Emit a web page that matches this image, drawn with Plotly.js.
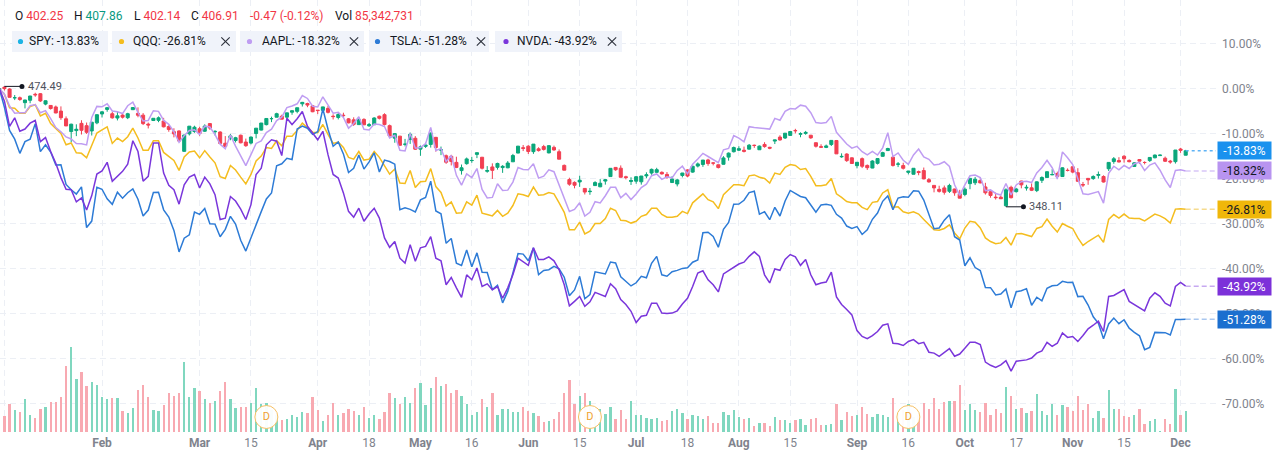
<!DOCTYPE html>
<html><head><meta charset="utf-8">
<script src="https://cdn.plot.ly/plotly-3.0.1.min.js"></script>
<style>html,body{margin:0;padding:0;background:#fff;}#chart{width:1275px;height:451px;}</style>
</head><body><div id="chart"></div>
<script>
// ---------- DATA (trading days 2022-01-03 .. 2022-12-02, index = trading day) ----------
const spyO = [476.30,479.22,477.16,467.89,467.95,462.70,465.23,471.59,472.19,461.19,
459.74,458.13,453.75,445.56,432.03,433.06,440.72,438.26,432.68,441.24,
450.68,455.50,450.95,446.35,449.51,446.73,455.22,451.34,449.41,439.92,
443.73,443.93,443.22,437.33,431.89,432.66,411.02,429.61,432.03,435.04,
432.37,440.47,431.75,431.55,419.62,425.14,422.52,428.12,420.89,419.77,
429.89,433.59,438.00,444.34,445.86,446.91,445.94,451.16,452.06,460.02,
460.34,457.89,453.31,453.13,455.22,446.89,445.59,447.97,444.11,443.08,
438.03,443.55,436.81,437.86,446.92,448.54,436.91,423.67,425.83,417.24,
422.29,423.59,412.07,415.01,417.08,424.55,411.10,405.10,404.49,398.07,
389.37,396.71,399.98,406.53,403.50,388.62,393.25,392.83,392.56,392.31,
398.67,407.91,413.55,415.17,409.42,412.40,414.78,408.10,413.93,409.34,
394.88,379.85,376.85,377.36,370.51,365.51,371.89,370.62,376.64,381.40,
391.05,390.23,381.23,376.24,376.56,375.88,382.11,385.12,385.85,385.85,
383.65,375.10,373.61,382.55,388.38,386.08,392.47,394.16,398.92,395.75,
393.84,394.36,401.89,407.58,409.15,409.12,410.30,414.37,409.66,415.25,
412.22,418.78,422.99,422.03,424.77,429.97,425.99,426.86,424.98,417.05,
412.90,412.11,415.24,419.39,402.20,405.14,401.13,392.89,400.28,393.13,
390.37,395.34,402.74,408.78,401.83,394.47,392.96,384.25,382.26,385.06,
386.11,376.58,370.58,366.41,367.95,364.38,366.79,361.80,361.08,372.40,
373.32,375.62,368.97,363.96,358.24,358.17,349.21,368.55,364.01,375.13,
367.82,368.03,365.12,375.89,378.79,381.62,383.07,379.87,386.44,390.14,
383.90,371.47,377.95,377.71,381.11,379.93,388.05,395.59,396.66,401.15,
396.78,390.46,397.74,394.64,396.63,399.55,401.83,399.09,396.05,395.49,
408.77,402.25];
const spyH = [477.85,479.98,477.98,470.82,469.20,465.74,469.85,473.20,472.88,465.09,
459.96,459.61,458.74,448.06,440.38,439.72,444.04,441.59,442.00,450.28,
453.63,458.12,452.97,452.78,450.99,451.92,457.88,457.71,451.61,441.60,
446.28,448.06,446.57,438.66,435.50,433.26,428.76,437.84,438.20,437.17,
439.72,441.11,433.37,432.30,427.21,429.51,426.43,428.77,424.55,426.84,
435.68,441.07,444.86,446.46,450.58,448.49,450.50,452.98,455.91,462.07,
461.20,458.76,453.46,456.91,457.83,448.93,450.69,450.63,445.00,445.75,
444.11,444.73,439.75,445.80,447.57,450.01,438.08,428.69,426.04,422.92,
429.64,425.87,415.92,418.93,429.66,425.00,414.80,406.41,406.08,404.04,
395.80,403.18,403.97,408.57,403.80,394.14,397.03,397.73,395.15,399.45,
407.04,415.38,416.46,416.24,417.44,414.04,416.61,416.22,415.82,411.74,
395.78,381.81,377.94,383.90,370.94,369.38,376.53,378.72,378.83,390.09,
391.36,393.16,382.27,380.66,381.70,381.98,385.87,389.83,390.64,386.87,
386.16,381.92,379.05,385.25,389.09,392.87,396.26,398.84,400.18,396.47,
394.06,402.88,406.80,413.03,413.41,413.00,415.68,415.09,414.15,417.62,
412.75,420.00,424.95,427.21,429.31,431.73,428.03,429.50,425.26,417.28,
415.42,415.11,419.56,419.96,405.84,405.90,401.56,396.78,401.56,394.12,
398.59,400.86,407.51,411.73,403.10,396.72,395.96,385.73,388.55,386.12,
389.31,378.30,370.62,370.21,370.40,372.30,367.11,365.91,368.55,378.00,
379.46,378.72,373.29,364.21,363.03,359.82,367.51,370.26,367.98,375.45,
371.21,372.67,374.80,380.06,385.25,387.58,385.00,389.52,388.40,390.39,
388.63,374.20,377.96,381.14,385.12,381.14,395.04,400.35,400.18,402.31,
397.78,394.95,397.81,395.82,400.07,402.93,402.91,400.81,397.30,407.68,
410.00,407.86];
const spyL = [473.85,475.58,468.28,465.43,464.65,456.60,462.05,468.94,463.44,459.90,
455.31,451.46,444.50,437.95,420.76,427.15,428.86,429.45,427.82,439.81,
446.94,453.05,445.71,443.83,445.85,445.22,455.01,447.20,438.94,435.34,
443.18,441.94,436.42,431.82,425.86,421.35,410.64,427.86,430.70,427.11,
431.57,433.80,427.88,419.36,415.12,422.82,420.44,419.53,415.79,418.42,
424.80,433.19,437.22,440.68,445.86,443.71,444.76,448.43,450.06,457.18,
456.47,451.16,449.14,452.26,449.82,443.47,443.53,445.94,439.39,436.65,
437.84,437.68,435.61,437.68,443.48,437.10,425.44,418.84,416.07,415.01,
417.60,411.21,405.02,413.36,413.71,409.44,405.73,396.50,394.82,391.96,
385.15,395.61,397.60,402.58,390.55,387.11,380.54,390.38,386.96,391.89,
398.45,407.70,410.03,406.93,407.04,409.51,410.55,407.61,410.38,401.44,
389.75,373.30,370.59,372.12,364.08,362.17,371.81,370.18,372.89,381.37,
387.44,380.53,378.42,372.56,373.80,372.90,379.60,383.27,385.66,383.50,
378.99,374.66,371.04,380.54,380.66,385.39,391.03,391.63,392.75,393.21,
389.95,394.05,398.15,406.77,408.40,406.82,410.00,411.65,409.60,411.83,
410.22,415.67,419.21,421.03,424.71,426.88,422.83,425.44,421.22,411.98,
411.77,411.39,413.61,405.25,401.20,396.83,395.16,390.04,390.33,388.42,
390.20,394.12,402.46,408.46,391.92,391.38,388.78,382.11,382.18,381.21,
376.95,373.44,363.29,363.03,360.87,362.60,359.70,357.04,359.21,366.57,
370.95,372.68,360.94,357.67,355.71,356.30,348.11,356.96,363.07,367.52,
365.09,364.61,363.54,373.11,378.67,381.35,379.33,379.68,385.26,383.29,
374.76,368.79,371.20,376.44,377.72,373.61,385.64,393.27,394.82,394.49,
394.79,390.14,393.04,392.66,395.15,398.99,401.54,395.11,393.30,393.48,
404.75,402.14];
const spyC = [477.71,477.55,468.38,467.94,466.09,465.51,469.75,471.02,464.53,464.72,
456.49,451.75,446.75,437.98,439.84,434.47,433.38,431.24,441.95,449.91,
452.95,457.35,446.60,448.70,447.26,450.94,457.54,449.32,440.46,439.02,
446.10,446.60,437.06,434.23,429.57,421.95,428.30,437.75,436.63,429.98,
437.89,435.71,432.17,419.43,416.25,427.41,425.48,420.07,417.00,426.17,
435.62,441.07,444.52,444.39,449.59,443.80,450.49,452.69,455.91,461.55,
458.70,451.64,452.92,456.80,451.03,446.52,448.77,447.57,439.92,438.29,
443.31,437.79,437.97,445.04,444.71,438.06,426.04,428.51,416.10,417.27,
427.81,412.00,414.48,416.38,429.06,413.81,411.34,398.17,399.09,392.75,
392.34,401.72,400.09,408.32,391.86,389.46,389.63,396.92,393.89,397.37,
405.31,415.26,412.93,409.59,417.39,410.54,411.79,415.74,411.22,401.44,
389.80,375.00,373.87,379.20,366.65,365.86,375.07,374.39,378.06,390.08,
388.59,380.65,380.34,377.25,381.24,381.96,383.25,388.99,388.67,384.23,
380.83,378.83,377.91,385.13,381.95,392.27,394.77,398.79,395.09,395.57,
390.89,401.04,406.07,411.99,410.77,408.06,414.45,414.17,413.47,412.99,
411.35,419.99,419.99,427.10,428.86,429.70,426.65,427.89,422.14,413.35,
412.35,413.67,419.51,405.31,402.63,398.21,395.18,396.42,392.24,390.76,
397.78,400.38,406.60,410.97,393.10,394.60,390.12,385.56,388.55,384.09,
377.39,374.22,367.95,364.31,363.38,370.53,362.79,357.18,366.61,377.97,
377.09,373.20,362.79,360.02,357.74,356.56,365.97,357.63,366.82,371.13,
368.50,365.41,374.29,378.87,384.92,382.02,379.98,389.02,386.21,384.52,
374.87,371.01,376.35,379.95,382.00,374.13,394.69,398.51,395.12,398.49,
395.45,394.24,396.03,394.59,399.90,402.42,402.33,395.91,395.23,407.68,
407.38,406.91];
// SPY volume, millions
const spyVol = [72.7,70,102,86,83,117,73,66,89,95,
108,107,121,202,253,168,186,150,162,152,
121,115,118,118,84,79,91,139,152,121,
86,84,99,132,123,132,213,121,144,137,
115,105,112,137,162,115,92,94,94,105,
144,103,105,88,75,60,62,75,68,83,
79,121,86,58,73,105,75,79,89,84,
73,96,65,75,62,83,132,118,102,120,
105,145,158,99,144,174,149,155,132,141,
123,103,75,82,115,96,132,75,89,89,
82,83,94,84,79,70,55,57,62,83,
132,167,103,123,133,110,75,89,77,96,
64,86,62,110,73,75,67,63,67,57,
60,84,89,79,62,75,70,62,70,53,
53,82,73,86,68,62,66,44,53,53,
44,68,60,60,54,60,63,47,62,66,
47,47,49,102,61,83,70,75,96,77,
68,77,75,68,119,80,87,102,69,73,
105,90,119,90,108,110,112,152,88,102,
88,82,106,73,90,79,147,123,90,92,
79,84,130,84,75,104,75,99,95,84,
125,86,104,66,84,67,139,90,90,70,
68,73,90,49,57,64,31.6,64,49,143,
75,85.3];
const spyDivIdx = [52,115,177];
const spyDivAmt = [1.366,1.577,1.596];

const aaplClose = [182.01,179.70,174.92,172.00,172.17,172.19,175.08,175.53,172.19,173.07,
169.80,166.23,164.51,162.41,161.62,159.78,159.69,159.22,170.33,174.78,
174.61,175.84,172.90,172.39,171.66,174.83,176.28,172.12,168.64,168.88,
172.79,172.55,168.88,167.30,164.32,160.07,162.74,164.85,165.12,163.20,
166.56,166.23,163.17,159.30,157.44,162.95,158.52,154.73,150.62,155.09,
159.59,160.62,163.98,165.38,168.82,170.21,174.07,174.72,175.60,178.96,
177.77,174.61,174.31,178.44,175.06,171.83,172.14,170.09,165.75,167.66,
170.40,165.29,165.07,167.40,167.23,166.42,161.79,162.88,156.80,156.57,
163.64,157.65,157.96,159.48,166.02,156.77,157.28,152.06,154.51,146.50,
142.56,147.11,145.54,149.24,140.82,137.35,137.59,143.11,140.36,140.52,
143.78,149.64,148.84,148.71,151.21,145.38,146.14,148.71,147.96,142.64,
137.13,131.88,132.76,135.43,130.06,131.56,135.87,135.35,138.27,141.66,
141.66,137.44,139.23,136.72,138.93,141.56,142.92,146.35,147.04,144.87,
145.86,145.49,148.47,150.17,147.07,151.00,153.04,155.35,154.09,152.95,
151.60,156.79,157.35,162.51,161.51,160.01,166.13,165.81,165.35,164.87,
164.92,169.24,168.49,172.10,173.19,173.03,174.55,174.15,171.52,167.57,
167.23,167.53,170.03,163.62,161.38,158.91,157.22,157.96,155.81,154.53,
155.96,154.46,157.37,163.43,153.84,155.31,152.37,150.70,154.48,156.90,
153.72,152.74,150.43,150.77,151.76,149.84,142.48,138.20,142.45,146.10,
146.40,145.43,140.09,140.42,138.98,138.34,142.99,138.38,142.41,143.75,
143.86,143.39,147.27,149.45,152.34,149.35,144.80,155.74,153.34,150.65,
145.03,138.88,138.38,138.92,139.50,134.87,146.87,149.70,148.28,150.04,
148.79,150.72,151.29,148.01,150.18,151.07,148.11,144.22,141.17,148.03,
148.31,147.81];
const aaplDivIdx = [23,86,148,212];
const aaplDivAmt = [0.22,0.23,0.23,0.23];

const tslaClose = [1199.78,1149.59,1088.12,1064.70,1026.96,1058.12,1064.40,1106.22,1031.56,1049.61,
1030.51,995.65,996.27,943.90,930.00,918.40,937.41,829.10,846.35,936.72,
931.25,905.66,891.14,923.32,907.34,922.00,932.00,904.55,860.00,875.76,
922.43,923.39,876.35,856.98,821.53,764.04,800.77,809.87,870.43,864.37,
879.89,839.29,838.29,804.58,824.40,858.97,838.30,795.35,766.37,801.89,
840.23,871.60,905.39,921.16,993.98,999.11,1013.92,1010.64,1091.84,1099.57,
1093.99,1077.60,1084.59,1145.45,1091.26,1045.76,1057.26,1025.49,975.93,986.95,
1022.37,985.00,1004.29,1028.15,977.20,1008.78,1005.05,998.02,876.42,881.51,
877.51,870.76,902.94,909.25,952.62,873.28,865.65,787.11,800.04,734.00,
728.00,769.59,724.37,761.61,709.81,709.42,663.90,674.90,628.16,658.80,
707.73,759.63,758.26,740.37,775.00,703.55,714.84,716.66,725.60,719.12,
696.69,647.21,662.67,699.00,639.30,650.28,711.11,708.26,705.21,737.12,
734.76,697.99,685.47,673.42,681.79,699.20,695.20,733.63,752.29,703.03,
699.21,711.12,714.94,720.20,721.64,736.59,742.50,815.12,816.73,805.30,
776.58,824.46,842.70,891.45,891.83,901.76,922.19,925.90,864.51,871.27,
850.00,883.07,859.89,900.09,927.96,919.69,911.99,908.61,890.00,869.74,
889.36,891.29,296.07,288.09,284.82,277.70,275.61,277.16,270.21,274.42,
283.70,289.26,299.68,304.42,292.13,302.61,303.75,303.35,309.07,308.73,
300.80,288.59,275.33,276.01,282.94,287.81,268.21,265.25,242.40,249.44,
240.81,238.13,223.07,222.96,216.50,217.24,221.72,204.99,219.35,220.19,
222.04,207.28,214.44,211.25,222.42,224.64,225.09,228.52,227.54,227.82,
214.98,215.31,207.47,197.08,191.30,177.59,190.72,195.97,190.95,194.42,
186.92,183.17,180.19,167.87,169.91,183.20,182.86,182.92,180.83,194.70,
194.70,194.86];
const tslaSplitIdx = 162, tslaSplitRatio = 3;

// percent change from the first day
const qqqPct = [0,-1.3,-4.3,-4.4,-5.5,-5.5,-4.0,-3.6,-6.1,-5.5,
-7.8,-8.8,-10.0,-12.5,-12.1,-14.3,-14.4,-15.4,-12.7,-9.9,
-9.2,-8.5,-12.2,-11.0,-11.8,-10.7,-8.8,-11.0,-13.7,-13.7,
-11.6,-11.6,-14.2,-15.2,-16.0,-18.2,-15.2,-14.1,-13.9,-15.4,
-13.8,-15.2,-16.5,-19.6,-20.0,-17.1,-18.1,-19.7,-21.2,-19.1,
-16.1,-15.0,-13.1,-13.3,-11.6,-12.7,-10.6,-10.6,-9.3,-7.7,
-8.6,-9.7,-9.8,-8.0,-10.2,-12.2,-11.9,-13.1,-15.3,-15.7,
-14.0,-15.9,-15.7,-14.0,-15.3,-17.2,-19.0,-17.9,-21.0,-21.1,
-18.2,-22.0,-20.7,-20.6,-17.8,-21.8,-23.1,-26.1,-25.2,-27.7,
-27.6,-25.2,-25.9,-23.7,-27.7,-28.0,-28.3,-27.1,-28.4,-27.7,
-26.0,-23.4,-23.6,-24.0,-21.9,-23.7,-23.6,-23.1,-23.4,-25.4,
-27.5,-31.4,-31.4,-29.7,-32.3,-31.7,-30.0,-30.0,-28.9,-26.6,
-27.1,-29.3,-29.4,-29.9,-29.5,-28.4,-28.0,-26.6,-26.6,-28.0,
-28.6,-28.6,-28.4,-27.3,-27.8,-25.4,-24.5,-23.4,-24.7,-25.2,
-26.7,-23.6,-22.5,-21.4,-21.4,-21.6,-19.4,-19.2,-19.7,-20.0,
-21.0,-18.8,-19.1,-17.5,-16.9,-17.1,-18.0,-17.8,-19.5,-21.6,
-21.6,-21.4,-20.0,-23.4,-24.2,-25.1,-25.4,-25.4,-26.4,-26.9,
-25.3,-25.1,-23.2,-22.5,-26.4,-26.3,-27.4,-27.7,-27.4,-27.9,
-29.1,-30.3,-31.4,-31.5,-31.1,-30.3,-32.1,-33.4,-31.0,-29.5,
-29.7,-31.0,-33.2,-34.0,-34.5,-34.3,-33.1,-34.8,-32.3,-32.2,
-32.5,-32.9,-31.1,-30.7,-29.0,-30.6,-31.9,-30.0,-30.6,-31.1,
-33.2,-34.85,-34.0,-33.2,-32.6,-34.2,-29.1,-28.0,-28.8,-27.9,
-28.8,-28.9,-28.9,-29.4,-28.6,-27.9,-28.3,-28.9,-29.9,-26.8,
-26.7,-26.81];
const nvdaPct = [0,-2.8,-8.4,-6.5,-9.5,-9.0,-7.7,-7.1,-11.8,-10.9,
-14.0,-16.6,-19.8,-22.4,-22.5,-25.2,-24.3,-27.0,-23.8,-19.0,
-18.3,-16.4,-20.6,-19.5,-18.4,-16.8,-11.6,-14.0,-20.6,-19.5,
-12.1,-12.1,-18.8,-21.5,-22.5,-25.7,-21.4,-19.7,-19.1,-22.1,
-19.7,-21.2,-23.6,-29.1,-28.8,-24.0,-25.0,-26.8,-29.1,-25.8,
-19.1,-17.7,-12.5,-11.4,-11.7,-14.9,-6.6,-8.0,-6.7,-5.1,
-8.4,-9.9,-11.4,-9.5,-14.7,-19.1,-19.9,-23.2,-27.3,-28.6,
-26.6,-29.5,-27.9,-26.6,-28.8,-33.2,-35.3,-34.0,-37.7,-38.8,
-34.7,-38.4,-35.4,-35.1,-32.9,-37.7,-38.3,-43.6,-42.0,-44.3,
-46.4,-41.4,-42.5,-39.9,-44.0,-43.4,-44.7,-44.0,-46.6,-44.3,
-41.4,-37.7,-38.6,-39.3,-35.4,-38.0,-38.0,-37.4,-38.3,-40.3,
-43.6,-48.3,-47.3,-46.2,-48.4,-47.4,-45.3,-45.8,-46.2,-43.4,
-44.5,-46.9,-48.0,-49.5,-52.0,-50.6,-50.4,-47.7,-47.7,-49.9,
-50.0,-49.9,-49.4,-47.9,-46.6,-44.0,-41.0,-40.5,-42.5,-43.6,
-45.2,-41.2,-40.5,-39.7,-39.0,-38.6,-37.3,-36.3,-37.3,-41.4,
-43.2,-40.1,-40.4,-38.0,-36.9,-37.4,-39.3,-38.0,-41.4,-43.6,
-43.2,-43.0,-40.8,-46.3,-48.0,-49.1,-50.3,-53.8,-55.1,-55.6,
-54.9,-54.0,-52.6,-52.3,-56.6,-56.7,-57.1,-56.2,-55.8,-56.7,
-56.4,-58.6,-58.8,-59.5,-58.7,-57.8,-59.5,-59.0,-57.7,-56.4,
-56.4,-56.9,-60.8,-61.5,-62.0,-61.4,-60.5,-62.8,-60.6,-60.4,
-60.3,-59.9,-58.8,-58.3,-56.4,-57.3,-56.6,-54.3,-55.3,-55.1,
-56.2,-54.9,-53.4,-52.6,-51.7,-54.0,-46.2,-46.0,-45.4,-44.7,
-47.3,-48.0,-48.8,-49.4,-46.6,-45.4,-46.2,-47.7,-48.3,-44.0,
-43.1,-43.92];

const tickIdx = [1,20,39,49,62,72,82,92,103,113,124,134,144,154,167,177,188,198,209,219,230];
const tickLbl = ['','Feb','Mar','15','Apr','18','May','16','Jun','15','Jul','18','Aug','15','Sep','16','Oct','17','Nov','15','Dec'];
const yTicks = [10,0,-10,-20,-30,-40,-50,-60,-70];
const legendNames = ['SPY','QQQ','AAPL','TSLA','NVDA'];
const legendVals = ['-13.83%','-26.81%','-18.32%','-51.28%','-43.92%'];
const volText = '85,342,731';

// ---------- LAYOUT CONSTANTS ----------
const W=1275,H=451,ML=0,MR=59,MT=0,MB=19;
const PW=W-ML-MR, PH=H-MT-MB;
const XR=[0.136,236.9], YR=[-76.33,19.67];
const dxPx = p => p/PW*(XR[1]-XR[0]);
const py2y = p => YR[1]-p/PH*(YR[1]-YR[0]);
const xp = p => p/PW, yp = p => 1-p/PH;
const FONT = 'Roboto, "Open Sans", Arial, sans-serif';
const DARK='#131722', RED='#f23645', GRN='#089981';
const UP='#0aa77b', DN='#f23f52', VUP='#80d7bf', VDN='#f8a9b1';
const col = {SPY:'#1cb3e4',QQQ:'#f4bd1f',AAPL:'#bf9df2',TSLA:'#2d7bd6',NVDA:'#7a36db'};
const lblBg = {SPY:'#1a91ee',QQQ:'#f0b70a',AAPL:'#b894f0',TSLA:'#1b6fcf',NVDA:'#7c31d9'};
const lblFg = {SPY:'#fff',QQQ:DARK,AAPL:DARK,TSLA:'#fff',NVDA:'#fff'};
const extCol = {SPY:'#5fb3f5',QQQ:'#f6db8e',AAPL:'#d8c6f7',TSLA:'#a9c7ef',NVDA:'#c7a9f1'};

// ---------- DERIVED ----------
const N = spyC.length;
const xs = spyC.map((_,i)=>i);
function divFactors(closes, idx, amt){
  const f = closes.map(()=>1);
  idx.forEach((d,k)=>{ const r = 1-amt[k]/closes[d-1]; for(let i=0;i<d;i++) f[i]*=r; });
  return f;
}
const fS = divFactors(spyC, spyDivIdx, spyDivAmt);
const spyBase = spyC[0]*fS[0];
const toP = (arr)=>arr.map((v,i)=>(v*fS[i]/spyBase-1)*100);
const sO=toP(spyO), sH=toP(spyH), sL=toP(spyL), sC=toP(spyC);
const fA = divFactors(aaplClose, aaplDivIdx, aaplDivAmt);
const aAdj = aaplClose.map((v,i)=>v*fA[i]);
const aaplPct = aAdj.map(v=>(v/aAdj[0]-1)*100);
const tAdj = tslaClose.map((v,i)=> i<tslaSplitIdx ? v/tslaSplitRatio : v);
const tslaPct = tAdj.map(v=>(v/tAdj[0]-1)*100);
const series = {QQQ:qqqPct, AAPL:aaplPct, TSLA:tslaPct, NVDA:nvdaPct, SPY:sC};

const volColors = spyC.map((c,i)=> c>=spyO[i] ? VUP : VDN);
const vmin = Math.min(...spyVol), vmax = Math.max(...spyVol);
const v0 = vmin-2.6, vTop = v0+(vmax-v0)*PH/85;

// ---------- TRACES ----------
const traces = [];
traces.push({type:'bar', x:xs, y:spyVol, yaxis:'y', marker:{color:volColors,line:{width:0}}, width:0.45, hoverinfo:'skip'});
traces.push({type:'candlestick', x:xs, open:sO, high:sH, low:sL, close:sC, yaxis:'y2',
  increasing:{line:{color:UP,width:1},fillcolor:UP}, decreasing:{line:{color:DN,width:1},fillcolor:DN},
  whiskerwidth:0, hoverinfo:'skip'});
['QQQ','AAPL','TSLA','NVDA'].forEach(k=>{
  traces.push({type:'scatter', mode:'lines', x:xs, y:series[k], yaxis:'y2', line:{color:col[k],width:1.5}, hoverinfo:'skip'});
});
// dividend markers
const dY = py2y(417);
traces.push({type:'scatter', mode:'markers+text', x:spyDivIdx, y:spyDivIdx.map(()=>dY), yaxis:'y2',
  text:spyDivIdx.map(()=> 'D'), textposition:'middle center', textfont:{family:FONT,size:11,color:'#f0a030'},
  marker:{size:23,color:'rgba(255,255,255,0.95)',line:{color:'#f6c064',width:1}}, hoverinfo:'skip', cliponaxis:false});
// high / low markers
let iHi=0,iLo=0; sH.forEach((v,i)=>{if(v>sH[iHi]) iHi=i;}); sL.forEach((v,i)=>{if(v<sL[iLo]) iLo=i;});
const hiVal = spyH[iHi]*fS[iHi], loVal = spyL[iLo]*fS[iLo];
const mk = dxPx(17.5);
traces.push({type:'scatter', mode:'markers', x:[iHi+mk, iLo+mk], y:[sH[iHi], sL[iLo]], yaxis:'y2',
  marker:{size:5,color:DARK}, hoverinfo:'skip', cliponaxis:false});

// ---------- SHAPES / ANNOTATIONS ----------
const shapes = [], ann = [];
shapes.push({type:'line', xref:'x', yref:'y2', x0:iHi, x1:iHi+mk, y0:sH[iHi], y1:sH[iHi], line:{color:DARK,width:1}});
shapes.push({type:'line', xref:'x', yref:'y2', x0:iLo, x1:iLo+mk, y0:sL[iLo], y1:sL[iLo], line:{color:DARK,width:1}});
ann.push({xref:'x', yref:'y2', x:iHi+mk+dxPx(4), y:sH[iHi], xanchor:'left', yanchor:'middle', showarrow:false,
  text:hiVal.toFixed(2), font:{family:FONT,size:11,color:'#50535e'}});
ann.push({xref:'x', yref:'y2', x:iLo+mk+dxPx(4), y:sL[iLo], xanchor:'left', yanchor:'middle', showarrow:false,
  text:loVal.toFixed(2), font:{family:FONT,size:11,color:'#50535e'}});

// last-value extensions + price-scale labels
['SPY','AAPL','QQQ','NVDA','TSLA'].forEach(k=>{
  const s = series[k], last = s[N-1];
  shapes.push({type:'line', xref:'x', yref:'y2', x0:N-1, x1:XR[1], y0:last, y1:last,
    line:{color:extCol[k], width:1.5, dash: k==='SPY' ? 'dot' : '5px,3px'}});
  ann.push({xref:'paper', yref:'y2', x:xp(1217), y:last, xanchor:'left', yanchor:'middle', showarrow:false,
    text:legendVals[legendNames.indexOf(k)], bgcolor:lblBg[k], borderpad:2, width:49, height:13, align:'center',
    font:{family:FONT,size:12,color:lblFg[k]}});
});

// header line (OHLC of last bar)
const lastI = N-1, chg = spyC[lastI]-spyC[lastI-1], chgP = chg/spyC[lastI-1]*100;
const hdr = [
  {x:13, t:`O <span style="color:${RED}">${spyO[lastI].toFixed(2)}</span>`},
  {x:72, t:`H <span style="color:${GRN}">${spyH[lastI].toFixed(2)}</span>`},
  {x:132, t:`L <span style="color:${RED}">${spyL[lastI].toFixed(2)}</span>`},
  {x:189, t:`C <span style="color:${RED}">${spyC[lastI].toFixed(2)}</span>`},
  {x:248, t:`<span style="color:${RED}">${chg.toFixed(2)} (${chgP.toFixed(2)}%)</span>`},
  {x:333, t:`Vol <span style="color:${RED}">${volText}</span>`}
];
hdr.forEach(h=>ann.push({xref:'paper', yref:'paper', x:xp(h.x), y:yp(16), xanchor:'left', yanchor:'middle',
  showarrow:false, text:h.t, font:{family:FONT,size:12,color:DARK}}));

// legend chips
const chips = [
  {x0:12,x1:108,dot:20.5,tx:26.5,cx:null},
  {x0:112,x1:236,dot:121.5,tx:131,cx:225.5},
  {x0:240,x1:364,dot:249.5,tx:259.5,cx:354},
  {x0:369,x1:489,dot:377.5,tx:388,cx:481},
  {x0:495,x1:622,dot:506,tx:515,cx:612}
];
const cy0=31, cy1=52, cyc=41.5;
chips.forEach((c,k)=>{
  const name = legendNames[k];
  shapes.push({type:'rect', xref:'paper', yref:'paper', x0:xp(c.x0), x1:xp(c.x1), y0:yp(cy1), y1:yp(cy0),
    fillcolor:'#f0f3fa', line:{width:0}, layer:'above'});
  shapes.push({type:'circle', xref:'paper', yref:'paper', x0:xp(c.dot-2.6), x1:xp(c.dot+2.6), y0:yp(cyc+2.6), y1:yp(cyc-2.6),
    fillcolor:col[name], line:{width:0}, layer:'above'});
  ann.push({xref:'paper', yref:'paper', x:xp(c.tx), y:yp(cyc), xanchor:'left', yanchor:'middle', showarrow:false,
    text:`${name}: ${legendVals[k]}`, font:{family:FONT,size:12,color:DARK}});
  if(c.cx!==null){
    const r=4.2;
    shapes.push({type:'line', xref:'paper', yref:'paper', x0:xp(c.cx-r), x1:xp(c.cx+r), y0:yp(cyc-r), y1:yp(cyc+r), line:{color:'#2a2e39',width:1.1}, layer:'above'});
    shapes.push({type:'line', xref:'paper', yref:'paper', x0:xp(c.cx-r), x1:xp(c.cx+r), y0:yp(cyc+r), y1:yp(cyc-r), line:{color:'#2a2e39',width:1.1}, layer:'above'});
  }
});

const GRID='#eceff5';
const layout = {
  width:W, height:H, margin:{l:ML,r:MR,t:MT,b:MB,pad:0},
  paper_bgcolor:'#fff', plot_bgcolor:'#fff', showlegend:false, hovermode:false,
  boxgap:0.15, bargap:0,
  font:{family:FONT,size:12,color:'#80838d'},
  xaxis:{type:'linear', range:XR, tickvals:tickIdx, ticktext:tickLbl.map(t=>/^[A-Z]/.test(t)?`<b>${t}</b>`:t),
    showgrid:true, gridcolor:GRID, griddash:'6px,4px', gridwidth:1, zeroline:false, showline:false, ticks:'',
    tickfont:{family:FONT,size:12,color:'#80838d'}, rangeslider:{visible:false}, fixedrange:true, ticklabelstandoff:2},
  yaxis:{range:[v0,vTop], visible:false, showgrid:false, zeroline:false, fixedrange:true},
  yaxis2:{overlaying:'y', side:'right', range:YR, tickvals:yTicks, ticktext:yTicks.map(v=>v.toFixed(2)+'%'),
    showgrid:true, gridcolor:GRID, griddash:'6px,4px', gridwidth:1, zeroline:false, showline:false, ticks:'',
    tickfont:{family:FONT,size:12,color:'#80838d'}, fixedrange:true, ticklabelstandoff:5},
  shapes:shapes, annotations:ann
};
Plotly.newPlot('chart', traces, layout, {staticPlot:true, displayModeBar:false});
</script></body></html>
